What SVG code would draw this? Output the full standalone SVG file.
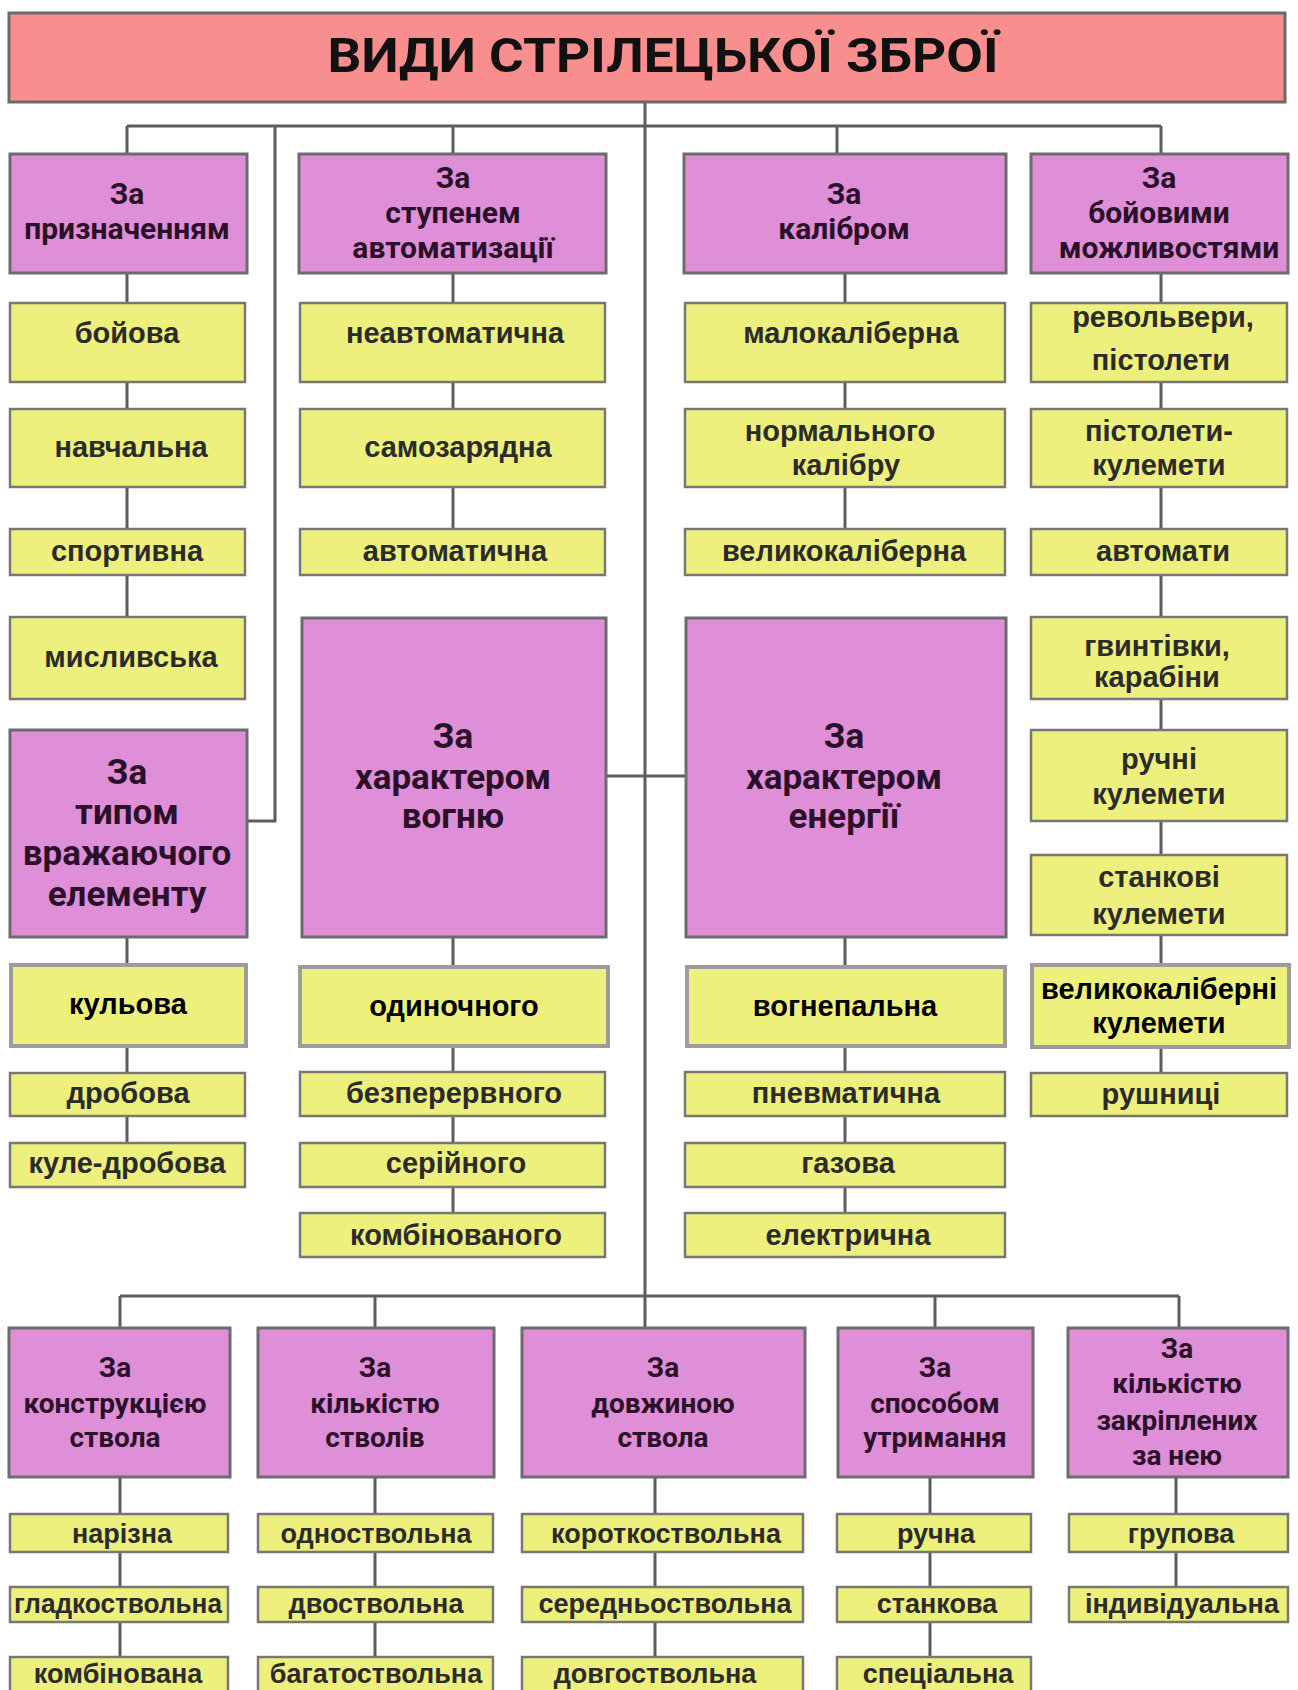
<svg xmlns="http://www.w3.org/2000/svg" width="1298" height="1690" viewBox="0 0 1298 1690">
<style>
.bg{fill:#ffffff}
.title rect{fill:#F98E8E;stroke:#6a6a6a;stroke-width:3}
.title text{font-family:Roboto,"Noto Sans",sans-serif;font-weight:700;font-size:48px;fill:#111;text-anchor:middle}
.hdr rect{fill:#DF8FD7;stroke:#6c6c6c;stroke-width:3}
.hdr text{font-family:Roboto,"Noto Sans",sans-serif;font-weight:700;font-size:30px;fill:#2a1028;text-anchor:middle}
.big text{font-size:35px}
.bot text{font-size:28px}
.leaf rect{fill:#EDF07C;stroke:#777777;stroke-width:2.5}
.leaf text{font-family:"Liberation Sans",Arial,sans-serif;font-weight:700;font-size:29px;fill:#2b2b2b;text-anchor:middle}
.bl text{font-size:27px}
.spec rect{fill:#EEF07C;stroke:#9c9c9c;stroke-width:4}
.spec text{font-family:"Liberation Sans",Arial,sans-serif;font-weight:700;font-size:29px;fill:#000;text-anchor:middle}
.conn line,.conn polyline{stroke:#5c5c5c;stroke-width:3;fill:none}
</style>
<rect class="bg" x="0" y="0" width="1298" height="1690"/>

<g id="connectors" class="conn">
  <line x1="645" y1="102" x2="645" y2="1328"/>
  <line x1="127" y1="126" x2="1161" y2="126"/>
  <line x1="127" y1="126" x2="127" y2="154"/>
  <polyline points="275,126 275,821 246,821"/>
  <line x1="453" y1="126" x2="453" y2="154"/>
  <line x1="837" y1="126" x2="837" y2="154"/>
  <line x1="1161" y1="126" x2="1161" y2="154"/>
  <line x1="127" y1="273" x2="127" y2="617"/>
  <line x1="127" y1="937" x2="127" y2="1143"/>
  <line x1="453" y1="273" x2="453" y2="529"/>
  <line x1="453" y1="937" x2="453" y2="1213"/>
  <line x1="845" y1="273" x2="845" y2="529"/>
  <line x1="845" y1="937" x2="845" y2="1213"/>
  <line x1="1161" y1="273" x2="1161" y2="1073"/>
  <line x1="606" y1="776" x2="686" y2="776"/>
  <line x1="120" y1="1296" x2="1179" y2="1296"/>
  <line x1="120" y1="1296" x2="120" y2="1328"/>
  <line x1="375" y1="1296" x2="375" y2="1328"/>
  <line x1="935" y1="1296" x2="935" y2="1328"/>
  <line x1="1179" y1="1296" x2="1179" y2="1328"/>
  <line x1="120" y1="1477" x2="120" y2="1657"/>
  <line x1="375" y1="1477" x2="375" y2="1657"/>
  <line x1="655" y1="1477" x2="655" y2="1657"/>
  <line x1="930" y1="1477" x2="930" y2="1657"/>
  <line x1="1176" y1="1477" x2="1176" y2="1587"/>
</g>

<g id="title" class="title">
  <rect x="9" y="13" width="1276" height="89"/>
  <text x="663" y="72" textLength="671" lengthAdjust="spacingAndGlyphs">ВИДИ СТРІЛЕЦЬКОЇ ЗБРОЇ</text>
</g>

<!-- Column 1 -->
<g id="h-pryznachennyam" class="hdr">
  <rect x="10" y="154" width="237" height="119"/>
  <text x="127" y="204">За</text>
  <text x="127" y="239">призначенням</text>
</g>
<g id="l-boiova" class="leaf"><rect x="10" y="303" width="235" height="79"/><text x="127" y="343">бойова</text></g>
<g id="l-navchalna" class="leaf"><rect x="10" y="409" width="235" height="78"/><text x="131" y="457">навчальна</text></g>
<g id="l-sportyvna" class="leaf"><rect x="10" y="529" width="235" height="46"/><text x="127" y="561">спортивна</text></g>
<g id="l-myslyvska" class="leaf"><rect x="10" y="617" width="235" height="82"/><text x="131" y="667">мисливська</text></g>
<g id="h-typom" class="hdr big">
  <rect x="10" y="730" width="237" height="207"/>
  <text x="127" y="784">За</text>
  <text x="127" y="824">типом</text>
  <text x="127" y="865">вражаючого</text>
  <text x="127" y="906">елементу</text>
</g>
<g id="l-kulova" class="spec"><rect x="11" y="965" width="235" height="81"/><text x="128" y="1014">кульова</text></g>
<g id="l-drobova" class="leaf"><rect x="10" y="1073" width="235" height="43"/><text x="128" y="1103">дробова</text></g>
<g id="l-kule-drobova" class="leaf"><rect x="10" y="1143" width="235" height="44"/><text x="127" y="1173">куле-дробова</text></g>

<!-- Column 2 -->
<g id="h-stupenem" class="hdr">
  <rect x="299" y="154" width="307" height="119"/>
  <text x="453" y="188">За</text>
  <text x="453" y="223">ступенем</text>
  <text x="453" y="258">автоматизації</text>
</g>
<g id="l-neavtomatychna" class="leaf"><rect x="300" y="303" width="305" height="79"/><text x="455" y="343">неавтоматична</text></g>
<g id="l-samozariadna" class="leaf"><rect x="300" y="409" width="305" height="78"/><text x="458" y="457">самозарядна</text></g>
<g id="l-avtomatychna" class="leaf"><rect x="300" y="529" width="305" height="46"/><text x="455" y="561">автоматична</text></g>
<g id="h-vohniu" class="hdr big">
  <rect x="302" y="618" width="304" height="319"/>
  <text x="453" y="748">За</text>
  <text x="453" y="789">характером</text>
  <text x="453" y="828">вогню</text>
</g>
<g id="l-odynochnoho" class="spec"><rect x="300" y="967" width="308" height="79"/><text x="454" y="1016">одиночного</text></g>
<g id="l-bezperervnoho" class="leaf"><rect x="300" y="1072" width="305" height="44"/><text x="454" y="1103">безперервного</text></g>
<g id="l-seriinoho" class="leaf"><rect x="300" y="1143" width="305" height="44"/><text x="456" y="1173">серійного</text></g>
<g id="l-kombinovanoho" class="leaf"><rect x="300" y="1213" width="305" height="44"/><text x="456" y="1245">комбінованого</text></g>

<!-- Column 3 -->
<g id="h-kalibrom" class="hdr">
  <rect x="684" y="154" width="322" height="119"/>
  <text x="844" y="204">За</text>
  <text x="844" y="239">калібром</text>
</g>
<g id="l-malokaliberna" class="leaf"><rect x="685" y="303" width="320" height="79"/><text x="851" y="343">малокаліберна</text></g>
<g id="l-normalnoho" class="leaf"><rect x="685" y="409" width="320" height="78"/><text x="840" y="441">нормального</text><text x="846" y="475">калібру</text></g>
<g id="l-velykokaliberna" class="leaf"><rect x="685" y="529" width="320" height="46"/><text x="844" y="561">великокаліберна</text></g>
<g id="h-enerhii" class="hdr big">
  <rect x="686" y="618" width="320" height="319"/>
  <text x="844" y="748">За</text>
  <text x="844" y="789">характером</text>
  <text x="844" y="828">енергії</text>
</g>
<g id="l-vohnepalna" class="spec"><rect x="687" y="967" width="318" height="79"/><text x="845" y="1016">вогнепальна</text></g>
<g id="l-pnevmatychna" class="leaf"><rect x="685" y="1072" width="320" height="44"/><text x="846" y="1103">пневматична</text></g>
<g id="l-hazova" class="leaf"><rect x="685" y="1143" width="320" height="44"/><text x="848" y="1173">газова</text></g>
<g id="l-elektrychna" class="leaf"><rect x="685" y="1213" width="320" height="44"/><text x="848" y="1245">електрична</text></g>

<!-- Column 4 -->
<g id="h-boiovymy" class="hdr">
  <rect x="1031" y="154" width="257" height="119"/>
  <text x="1159" y="188">За</text>
  <text x="1159" y="223">бойовими</text>
  <text x="1169" y="258">можливостями</text>
</g>
<g id="l-revolvery" class="leaf"><rect x="1031" y="303" width="256" height="79"/><text x="1163" y="327">револьвери,</text><text x="1161" y="370">пістолети</text></g>
<g id="l-pistoleti-kulemety" class="leaf"><rect x="1031" y="409" width="256" height="78"/><text x="1159" y="441">пістолети-</text><text x="1159" y="475">кулемети</text></g>
<g id="l-avtomaty" class="leaf"><rect x="1031" y="529" width="256" height="46"/><text x="1163" y="561">автомати</text></g>
<g id="l-hvyntivky" class="leaf"><rect x="1031" y="617" width="256" height="82"/><text x="1157" y="656">гвинтівки,</text><text x="1157" y="687">карабіни</text></g>
<g id="l-ruchni" class="leaf"><rect x="1031" y="730" width="256" height="91"/><text x="1159" y="769">ручні</text><text x="1159" y="804">кулемети</text></g>
<g id="l-stankovi" class="leaf"><rect x="1031" y="855" width="256" height="80"/><text x="1159" y="887">станкові</text><text x="1159" y="924">кулемети</text></g>
<g id="l-velykokaliberni" class="spec"><rect x="1032" y="965" width="257" height="82"/><text x="1159" y="999">великокаліберні</text><text x="1159" y="1033">кулемети</text></g>
<g id="l-rushnytsi" class="leaf"><rect x="1031" y="1073" width="256" height="43"/><text x="1161" y="1104">рушниці</text></g>

<!-- Bottom row -->
<g id="h-konstruktsiieiu" class="hdr bot">
  <rect x="9" y="1328" width="221" height="149"/>
  <text x="115" y="1377">За</text>
  <text x="115" y="1413">конструкцією</text>
  <text x="115" y="1447">ствола</text>
</g>
<g id="h-kilkistiu-stvoliv" class="hdr bot">
  <rect x="258" y="1328" width="236" height="149"/>
  <text x="375" y="1377">За</text>
  <text x="375" y="1413">кількістю</text>
  <text x="375" y="1447">стволів</text>
</g>
<g id="h-dovzhynoiu" class="hdr bot">
  <rect x="522" y="1328" width="283" height="149"/>
  <text x="663" y="1377">За</text>
  <text x="663" y="1413">довжиною</text>
  <text x="663" y="1447">ствола</text>
</g>
<g id="h-sposobom" class="hdr bot">
  <rect x="838" y="1328" width="195" height="149"/>
  <text x="935" y="1377">За</text>
  <text x="935" y="1413">способом</text>
  <text x="935" y="1447">утримання</text>
</g>
<g id="h-zakriplenykh" class="hdr bot">
  <rect x="1068" y="1328" width="220" height="149"/>
  <text x="1177" y="1358">За</text>
  <text x="1177" y="1393">кількістю</text>
  <text x="1177" y="1430">закріплених</text>
  <text x="1177" y="1465">за нею</text>
</g>

<g id="l-narizna" class="leaf bl"><rect x="10" y="1514" width="218" height="38"/><text x="122" y="1543">нарізна</text></g>
<g id="l-hladkostvolna" class="leaf bl"><rect x="10" y="1587" width="218" height="35"/><text x="118" y="1613" textLength="208" lengthAdjust="spacingAndGlyphs">гладкоствольна</text></g>
<g id="l-kombinovana" class="leaf bl"><rect x="10" y="1657" width="218" height="45"/><text x="118" y="1683">комбінована</text></g>

<g id="l-odnostvolna" class="leaf bl"><rect x="258" y="1514" width="235" height="38"/><text x="376" y="1543">одноствольна</text></g>
<g id="l-dvostvolna" class="leaf bl"><rect x="258" y="1587" width="235" height="35"/><text x="376" y="1613">двоствольна</text></g>
<g id="l-bahatostvolna" class="leaf bl"><rect x="258" y="1657" width="235" height="45"/><text x="376" y="1683">багатоствольна</text></g>

<g id="l-korotkostvolna" class="leaf bl"><rect x="522" y="1514" width="281" height="38"/><text x="666" y="1543">короткоствольна</text></g>
<g id="l-serednostvolna" class="leaf bl"><rect x="522" y="1587" width="281" height="35"/><text x="665" y="1613">середньоствольна</text></g>
<g id="l-dovhostvolna" class="leaf bl"><rect x="522" y="1657" width="281" height="45"/><text x="655" y="1683">довгоствольна</text></g>

<g id="l-ruchna" class="leaf bl"><rect x="837" y="1514" width="194" height="38"/><text x="936" y="1543">ручна</text></g>
<g id="l-stankova" class="leaf bl"><rect x="837" y="1587" width="194" height="35"/><text x="937" y="1613">станкова</text></g>
<g id="l-spetsialna" class="leaf bl"><rect x="837" y="1657" width="194" height="45"/><text x="938" y="1683">спеціальна</text></g>

<g id="l-hrupova" class="leaf bl"><rect x="1069" y="1514" width="219" height="38"/><text x="1181" y="1543">групова</text></g>
<g id="l-indyvidualna" class="leaf bl"><rect x="1069" y="1587" width="219" height="35"/><text x="1182" y="1613">індивідуальна</text></g>
</svg>
